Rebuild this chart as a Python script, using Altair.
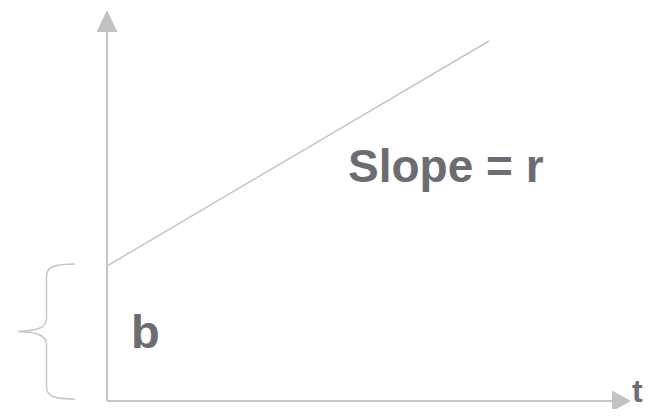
import altair as alt
import pandas as pd

# ---- diagram values (t = horizontal units, v = vertical units) ----
intercept_b = 13.5          # where the line meets the vertical axis
line_t = [0.0, 38.2]        # start / end of the sloped line
line_v = [13.5, 36.0]

yaxis_t = [0.0, 0.0]
yaxis_v = [0.0, 36.9]
xaxis_t = [0.0, 50.5]
xaxis_v = [0.0, 0.0]

yarrow_t = [0.0]
yarrow_v = [38.0]
xarrow_t = [51.45]
xarrow_v = [0.0]

brace_t = [-6.05]
brace_v = [6.95]

label_text = ["Slope = r", "b", "t"]
label_t = [24.1, 2.4, 52.5]
label_v = [21.9, 5.3, -0.1]
label_size = [46, 47, 32]

LINE = "#c6c6c6"
TEXT = "#6c6c72"

xs = alt.Scale(domain=[-9.9, 53.7], nice=False, zero=False)
ys = alt.Scale(domain=[-0.8, 39.3], nice=False, zero=False)


def enc(chart):
    return chart.encode(
        x=alt.X("t:Q", scale=xs, axis=None),
        y=alt.Y("v:Q", scale=ys, axis=None),
    )


slope_line = enc(alt.Chart(pd.DataFrame({"t": line_t, "v": line_v}))
                 .mark_line(color=LINE, strokeWidth=1.5))
y_axis = enc(alt.Chart(pd.DataFrame({"t": yaxis_t, "v": yaxis_v}))
             .mark_line(color=LINE, strokeWidth=2))
x_axis = enc(alt.Chart(pd.DataFrame({"t": xaxis_t, "v": xaxis_v}))
             .mark_line(color=LINE, strokeWidth=2))

y_arrow = enc(alt.Chart(pd.DataFrame({"t": yarrow_t, "v": yarrow_v}))
              .mark_point(shape="M0,-1L0.95,1L-0.95,1Z", size=484,
                          filled=True, color="#c2c2c2", opacity=1))
x_arrow = enc(alt.Chart(pd.DataFrame({"t": xarrow_t, "v": xarrow_v}))
              .mark_point(shape="M1,0L-1,-1.1L-1,1.1Z", size=361,
                          filled=True, color="#c2c2c2", opacity=1))

brace_path = ("M0.42,-1C0.12,-1 0,-0.96 0,-0.82L0,-0.2"
              "C0,-0.06 -0.12,-0.01 -0.42,0"
              "C-0.12,0.01 0,0.06 0,0.2L0,0.82"
              "C0,0.96 0.12,1 0.42,1")
brace = enc(alt.Chart(pd.DataFrame({"t": brace_t, "v": brace_v}))
            .mark_point(shape=brace_path, size=18225, filled=False,
                        color=LINE, strokeWidth=1.5, opacity=1))

labels = enc(alt.Chart(pd.DataFrame({"t": label_t, "v": label_v,
                                     "txt": label_text, "fs": label_size}))
             .mark_text(align="left", baseline="alphabetic",
                        font="Liberation Sans", fontWeight="bold",
                        color=TEXT)).encode(
    text="txt:N",
    size=alt.Size("fs:Q", scale=None, legend=None),
)

chart = alt.layer(slope_line, y_axis, x_axis, y_arrow, x_arrow, brace, labels).properties(
    width=636, height=401, padding=0,
    autosize=alt.AutoSizeParams(type="none"),
).configure_view(stroke=None)

chart.save("out.html", embed_options={"renderer": "svg", "actions": False})
